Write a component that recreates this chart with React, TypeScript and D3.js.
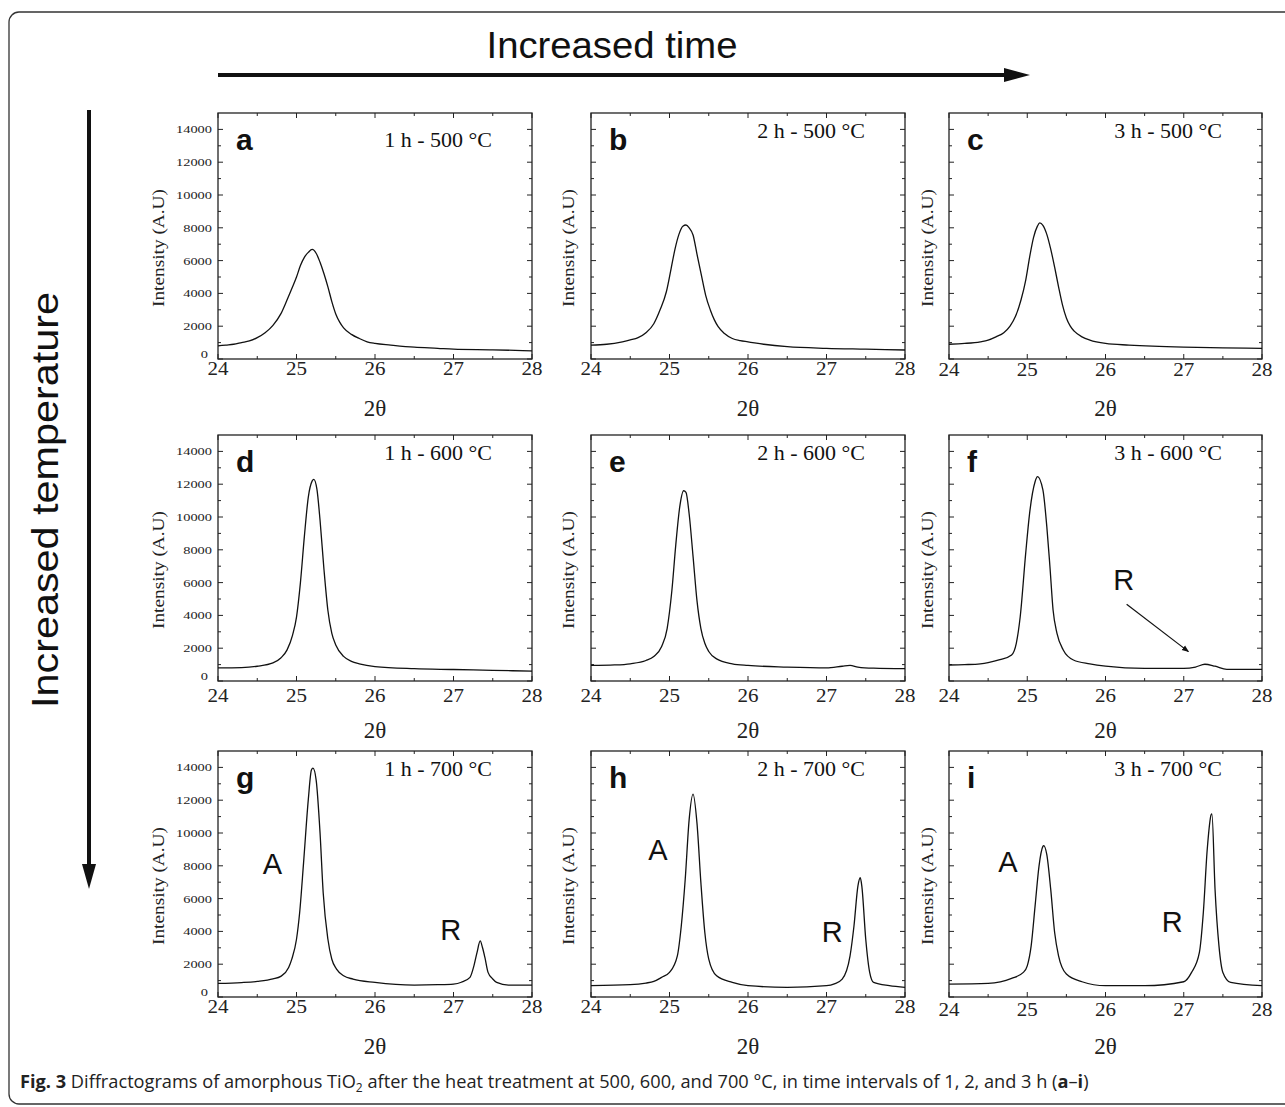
import React from "react";
import * as d3 from "d3";

type Pt = [number, number];

const panelLetters = ["a", "b", "c", "d", "e", "f", "g", "h", "i"];
const conditionLabels = [
  "1 h - 500 °C", "2 h - 500 °C", "3 h - 500 °C",
  "1 h - 600 °C", "2 h - 600 °C", "3 h - 600 °C",
  "1 h - 700 °C", "2 h - 700 °C", "3 h - 700 °C",
];
const xTicks = [24, 25, 26, 27, 28];
const xMinorTicks = [24.5, 25.5, 26.5, 27.5];
const yTicks = [0, 2000, 4000, 6000, 8000, 10000, 12000, 14000];
const yMinorTicks = [1000, 3000, 5000, 7000, 9000, 11000, 13000];

const seriesA: Pt[] = [[24,800],[24.1,850],[24.2,900],[24.3,1000],[24.4,1100],[24.5,1300],[24.6,1600],[24.7,2050],[24.8,2750],[24.875,3550],[24.95,4400],[25.0,5000],[25.05,5700],[25.1,6200],[25.15,6500],[25.2,6680],[25.25,6450],[25.3,5900],[25.35,5200],[25.4,4400],[25.45,3500],[25.5,2750],[25.55,2250],[25.6,1900],[25.7,1500],[25.8,1250],[25.9,1050],[26.0,950],[26.2,850],[26.5,720],[26.8,650],[27.0,600],[27.5,560],[28,500]];
const seriesB: Pt[] = [[24,850],[24.2,900],[24.4,1050],[24.5,1160],[24.6,1300],[24.7,1600],[24.8,2150],[24.88,3000],[24.96,4100],[25.02,5500],[25.07,6700],[25.12,7600],[25.17,8100],[25.21,8170],[25.25,8000],[25.3,7560],[25.35,6400],[25.41,5020],[25.46,3900],[25.52,2990],[25.57,2400],[25.62,1970],[25.7,1550],[25.8,1250],[25.9,1120],[26.0,1050],[26.2,900],[26.5,750],[27,650],[27.5,600],[28,550]];
const seriesC: Pt[] = [[24,900],[24.2,950],[24.4,1050],[24.5,1150],[24.6,1350],[24.7,1600],[24.78,2000],[24.85,2600],[24.92,3600],[24.98,4800],[25.03,6200],[25.08,7400],[25.13,8100],[25.16,8300],[25.2,8150],[25.25,7600],[25.3,6700],[25.35,5600],[25.4,4400],[25.45,3300],[25.5,2500],[25.55,2000],[25.6,1700],[25.7,1350],[25.8,1150],[26.0,950],[26.3,850],[26.6,780],[27,720],[27.5,680],[28,650]];
const seriesD: Pt[] = [[24,800],[24.3,820],[24.5,900],[24.7,1100],[24.8,1400],[24.88,1900],[24.95,2800],[25.0,3900],[25.05,6000],[25.1,8800],[25.15,11200],[25.2,12200],[25.22,12300],[25.26,11700],[25.3,9800],[25.35,6800],[25.4,4300],[25.45,2900],[25.5,2200],[25.6,1500],[25.7,1200],[25.8,1050],[26,880],[26.5,750],[27,700],[27.5,650],[28,600]];
const seriesE: Pt[] = [[24,950],[24.3,980],[24.5,1050],[24.7,1250],[24.8,1500],[24.9,2100],[24.97,3200],[25.03,5500],[25.08,8300],[25.13,10600],[25.18,11600],[25.21,11500],[25.25,10200],[25.3,7600],[25.35,4900],[25.4,3200],[25.45,2300],[25.5,1800],[25.6,1350],[25.8,1050],[26,950],[26.5,850],[27,800],[27.2,900],[27.3,950],[27.4,850],[27.6,780],[28,750]];
const seriesF: Pt[] = [[24,975],[24.2,1000],[24.4,1050],[24.5,1120],[24.65,1300],[24.8,1590],[24.86,2300],[24.91,3920],[24.98,7780],[25.03,10220],[25.1,12150],[25.13,12460],[25.2,11650],[25.25,9410],[25.29,6970],[25.33,4330],[25.38,2910],[25.46,1890],[25.59,1280],[25.8,1050],[26,910],[26.5,770],[27,770],[27.15,850],[27.27,1020],[27.4,900],[27.55,710],[28,710]];
const seriesG: Pt[] = [[24,830],[24.3,880],[24.5,950],[24.7,1100],[24.8,1260],[24.9,1800],[24.94,2310],[25.0,3520],[25.04,5140],[25.09,8180],[25.15,12020],[25.19,13840],[25.21,13950],[25.25,13240],[25.3,10000],[25.34,6360],[25.4,3520],[25.45,2300],[25.51,1700],[25.6,1300],[25.72,1090],[26,890],[26.5,730],[26.8,750],[27,790],[27.1,900],[27.21,1200],[27.26,1900],[27.3,2720],[27.34,3420],[27.37,3000],[27.4,2410],[27.44,1500],[27.5,1100],[27.55,890],[27.7,730],[28,730]];
const seriesH: Pt[] = [[24,690],[24.5,750],[24.7,850],[24.8,950],[24.9,1200],[25.0,1500],[25.1,2510],[25.15,4330],[25.2,7160],[25.25,10800],[25.3,12370],[25.35,10600],[25.4,6960],[25.45,3930],[25.5,2310],[25.6,1290],[25.8,890],[26,690],[26.5,590],[27,690],[27.1,800],[27.2,1090],[27.3,2510],[27.35,4330],[27.4,6760],[27.43,7270],[27.45,6760],[27.5,3520],[27.55,1500],[27.6,890],[27.8,690],[28,590]];
const seriesI: Pt[] = [[24,790],[24.5,830],[24.8,1130],[24.95,1500],[25.0,1900],[25.05,3120],[25.1,5540],[25.15,7970],[25.2,9180],[25.21,9230],[25.25,8680],[25.3,6560],[25.35,3930],[25.4,2510],[25.5,1400],[25.7,930],[26,690],[26.5,690],[27,930],[27.1,1500],[27.2,2720],[27.25,5140],[27.3,8990],[27.35,11110],[27.36,11170],[27.4,6560],[27.45,3120],[27.5,1500],[27.6,890],[28,690]];

const allSeries = [seriesA, seriesB, seriesC, seriesD, seriesE, seriesF, seriesG, seriesH, seriesI];

// phase annotations (panel index, text, data x, data y)
const phasePanels = [5, 6, 6, 7, 7, 8, 8];
const phaseTexts = ["R", "A", "R", "A", "R", "A", "R"];
const phaseX = [26.1, 24.57, 26.83, 24.73, 26.94, 24.63, 26.72];
const phaseY = [5550, 7530, 3490, 8330, 3370, 7650, 3980];
// arrow in panel f
const arrowF: Pt[] = [[26.27, 4680], [27.06, 1790]];

const colLefts = [218, 591, 949];
const colWidths = [314, 314, 313];
const rowTops = [113, 435, 751];
const plotH = 246;
const tickLabelDy = [16, 16, 17, 21, 21, 21, 16, 16, 19];
const condDy = [34, 25, 25, 25, 25, 25, 25, 25, 25];
const ylabDx = [60, 23, 22];

const serif = "'Liberation Serif', 'Times New Roman', serif";
const sans = "'Liberation Sans', Arial, sans-serif";

function Panel({ idx }: { idx: number }) {
  const col = idx % 3;
  const row = Math.floor(idx / 3);
  const left = colLefts[col];
  const w = colWidths[col];
  const top = rowTops[row];
  const x = d3.scaleLinear().domain([24, 28]).range([left, left + w]);
  const y = d3.scaleLinear().domain([0, 15000]).range([top + plotH, top]);
  const line = d3
    .line<Pt>()
    .x((d) => x(d[0]))
    .y((d) => y(d[1]))
    .curve(d3.curveMonotoneX);
  const bottom = top + plotH;
  const right = left + w;
  const showY = col === 0;
  const annIdx = phasePanels.map((p, i) => (p === idx ? i : -1)).filter((i) => i >= 0);
  return (
    <g>
      {xTicks.map((t) => (
        <g key={"xt" + t} stroke="#222" strokeWidth={1}>
          <line x1={x(t)} x2={x(t)} y1={bottom} y2={bottom - 5} />
          <line x1={x(t)} x2={x(t)} y1={top} y2={top + 5} />
        </g>
      ))}
      {xMinorTicks.map((t) => (
        <g key={"xm" + t} stroke="#222" strokeWidth={1}>
          <line x1={x(t)} x2={x(t)} y1={bottom} y2={bottom - 3} />
          <line x1={x(t)} x2={x(t)} y1={top} y2={top + 3} />
        </g>
      ))}
      {yTicks.map((t) => (
        <g key={"yt" + t} stroke="#222" strokeWidth={1}>
          <line x1={left} x2={left + 5} y1={y(t)} y2={y(t)} />
          <line x1={right} x2={right - 5} y1={y(t)} y2={y(t)} />
        </g>
      ))}
      {yMinorTicks.map((t) => (
        <g key={"ym" + t} stroke="#222" strokeWidth={1}>
          <line x1={left} x2={left + 3} y1={y(t)} y2={y(t)} />
          <line x1={right} x2={right - 3} y1={y(t)} y2={y(t)} />
        </g>
      ))}
      <rect x={left} y={top} width={w} height={plotH} fill="none" stroke="#222" strokeWidth={1.3} />
      {xTicks.map((t) => (
        <text key={"xl" + t} x={x(t)} y={bottom + tickLabelDy[idx]} textAnchor="middle" fontFamily={serif} fontSize={18} fill="#222" textLength={21} lengthAdjust="spacingAndGlyphs">
          {t}
        </text>
      ))}
      {showY &&
        yTicks.map((t) => {
          const s = String(t);
          return (
            <text key={"yl" + t} x={t === 0 ? left - 10 : left - 6} y={t === 0 ? y(t) - 1 : y(t) + 4} textAnchor="end" fontFamily={serif} fontSize={11} fill="#222" textLength={s.length * 7.2} lengthAdjust="spacingAndGlyphs">
              {s}
            </text>
          );
        })}
      <text x={(left + right) / 2} y={bottom + 57} textAnchor="middle" fontFamily={serif} fontSize={23} fill="#222">
        2θ
      </text>
      <text transform={`translate(${left - ylabDx[col] + 6},${top + plotH / 2 + 12}) rotate(-90)`} textAnchor="middle" fontFamily={serif} fontSize={17} fill="#222" textLength={118} lengthAdjust="spacingAndGlyphs">
        Intensity (A.U)
      </text>
      <path d={line(allSeries[idx]) || ""} fill="none" stroke="#111" strokeWidth={1.3} />
      <text x={left + 18} y={top + 37} fontFamily={sans} fontWeight="bold" fontSize={30} fill="#111">
        {panelLetters[idx]}
      </text>
      <text x={right - 40} y={top + condDy[idx]} textAnchor="end" fontFamily={serif} fontSize={22} fill="#111">
        {conditionLabels[idx]}
      </text>
      {annIdx.map((i) => (
        <text key={"ann" + i} x={x(phaseX[i])} y={y(phaseY[i])} fontFamily={sans} fontSize={29} fill="#111">
          {phaseTexts[i]}
        </text>
      ))}
      {idx === 5 && (
        <line x1={x(arrowF[0][0])} y1={y(arrowF[0][1])} x2={x(arrowF[1][0])} y2={y(arrowF[1][1])} stroke="#111" strokeWidth={1.2} markerEnd="url(#smallArrow)" />
      )}
    </g>
  );
}

export default function App() {
  return (
    <svg width={1285} height={1107} style={{ position: "absolute", left: 0, top: 0, background: "#fff" }}>
      <defs>
        <marker id="smallArrow" viewBox="0 0 10 10" refX="9" refY="5" markerWidth="6" markerHeight="6" orient="auto">
          <path d="M0,1 L10,5 L0,9 z" fill="#111" />
        </marker>
      </defs>
      <rect x={0} y={0} width={1285} height={1107} fill="#fff" />
      <rect x={9} y={12} width={1290} height={1092} rx={10} fill="none" stroke="#333" strokeWidth={1.3} />
      <text x={612} y={58} textAnchor="middle" fontFamily={sans} fontSize={36} fill="#111" textLength={251} lengthAdjust="spacingAndGlyphs">
        Increased time
      </text>
      <line x1={218} y1={75} x2={1008} y2={75} stroke="#111" strokeWidth={4} />
      <polygon points="1004,68 1030,75 1004,82" fill="#111" />
      <text transform="translate(58,500) rotate(-90)" textAnchor="middle" fontFamily={sans} fontSize={36} fill="#111" textLength={416} lengthAdjust="spacingAndGlyphs">
        Increased temperature
      </text>
      <line x1={89} y1={110} x2={89} y2={866} stroke="#111" strokeWidth={4} />
      <polygon points="82,864 89,889 96,864" fill="#111" />
      {panelLetters.map((_, i) => (
        <Panel key={i} idx={i} />
      ))}
      <text x={20} y={1088} fontFamily="'Open Sans', 'Noto Sans', sans-serif" fontSize={18.2} fill="#222">
        <tspan fontWeight="bold">Fig. 3</tspan>
        <tspan> Diffractograms of amorphous TiO</tspan>
        <tspan fontSize={12} dy={4}>2</tspan>
        <tspan dy={-4}> after the heat treatment at 500, 600, and 700 °C, in time intervals of 1, 2, and 3 h (</tspan>
        <tspan fontWeight="bold">a</tspan>
        <tspan>–</tspan>
        <tspan fontWeight="bold">i</tspan>
        <tspan>)</tspan>
      </text>
    </svg>
  );
}
